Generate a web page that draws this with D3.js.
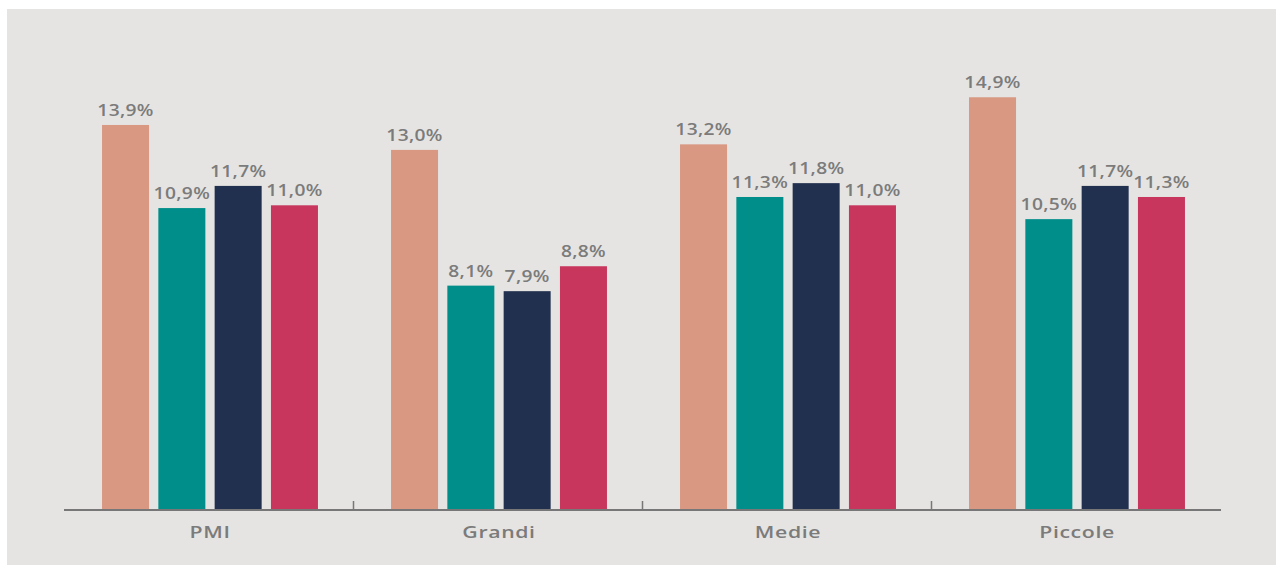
<!DOCTYPE html>
<html><head><meta charset="utf-8">
<script src="https://cdn.jsdelivr.net/npm/d3@7"></script>
<style>html,body{margin:0;padding:0;background:#fff;}svg{display:block;}</style>
</head><body>
<svg id="c" width="1276" height="566"></svg>
<script>
const categories = ["PMI", "Grandi", "Medie", "Piccole"];
const seriesNames = ["s1", "s2", "s3", "s4"];
const s1 = [13.9, 13.0, 13.2, 14.9];
const s2 = [10.9, 8.1, 11.3, 10.5];
const s3 = [11.7, 7.9, 11.8, 11.7];
const s4 = [11.0, 8.8, 11.0, 11.3];
const colors = ["#d99882", "#008e8a", "#22304f", "#c8365e"];

const series = [s1, s2, s3, s4];
const svg = d3.select("#c");
svg.append("rect").attr("x", 7).attr("y", 9).attr("width", 1269).attr("height", 556).attr("fill", "#e5e4e2");

const x0 = d3.scaleBand().domain(categories).range([65.5, 1221.5]).paddingInner(0).paddingOuter(0);
const x1 = d3.scaleBand().domain(seriesNames).range([0, x0.bandwidth()]).paddingInner(0.165).paddingOuter(0.649);
const y = d3.scaleLinear().domain([0, 15]).range([510, 94.5]);

const data = [];
categories.forEach((c, i) => series.forEach((s, j) => data.push({c, k: seriesNames[j], v: s[i], col: colors[j]})));

const g = svg.append("g");
g.selectAll("rect.bar").data(data).join("rect").attr("class", "bar")
  .attr("x", d => x0(d.c) + x1(d.k))
  .attr("width", x1.bandwidth())
  .attr("y", d => y(d.v))
  .attr("height", d => y(0) - y(d.v))
  .attr("fill", d => d.col);

g.selectAll("text.val").data(data).join("text").attr("class", "val")
  .attr("transform", d => `translate(${x0(d.c) + x1(d.k) + x1.bandwidth() / 2},${y(d.v) - 9}) scale(1.2,1)`)
  .attr("text-anchor", "middle")
  .attr("font-family", "'Open Sans', sans-serif")
  .attr("font-size", 16)
  .attr("font-weight", 600)
  .attr("letter-spacing", "0.3px")
  .attr("fill", "#7b7b7b")
  .text(d => d.v.toFixed(1).replace(".", ",") + "%");

const axis = d3.axisBottom(x0).tickSize(0).tickPadding(0);
const ax = svg.append("g").attr("transform", "translate(0,510)").call(axis);
ax.select(".domain").attr("stroke", "#777").attr("stroke-width", 2).attr("d", "M64,0H1221");
ax.selectAll(".tick text").attr("y", 0).attr("dy", 0)
  .attr("transform", "translate(0,28) scale(1.25,1)")
  .attr("font-family", "'Open Sans', sans-serif").attr("font-size", 17).attr("font-weight", 600)
  .attr("letter-spacing", "0.5px").attr("fill", "#7b7b7b");

// separators between groups
ax.selectAll("line.sep").data(categories.slice(1)).join("line").attr("class", "sep")
  .attr("x1", d => x0(d) - 1).attr("x2", d => x0(d) - 1).attr("y1", -9).attr("y2", 0)
  .attr("stroke", "#777").attr("stroke-width", 1.5);
</script>
</body></html>
